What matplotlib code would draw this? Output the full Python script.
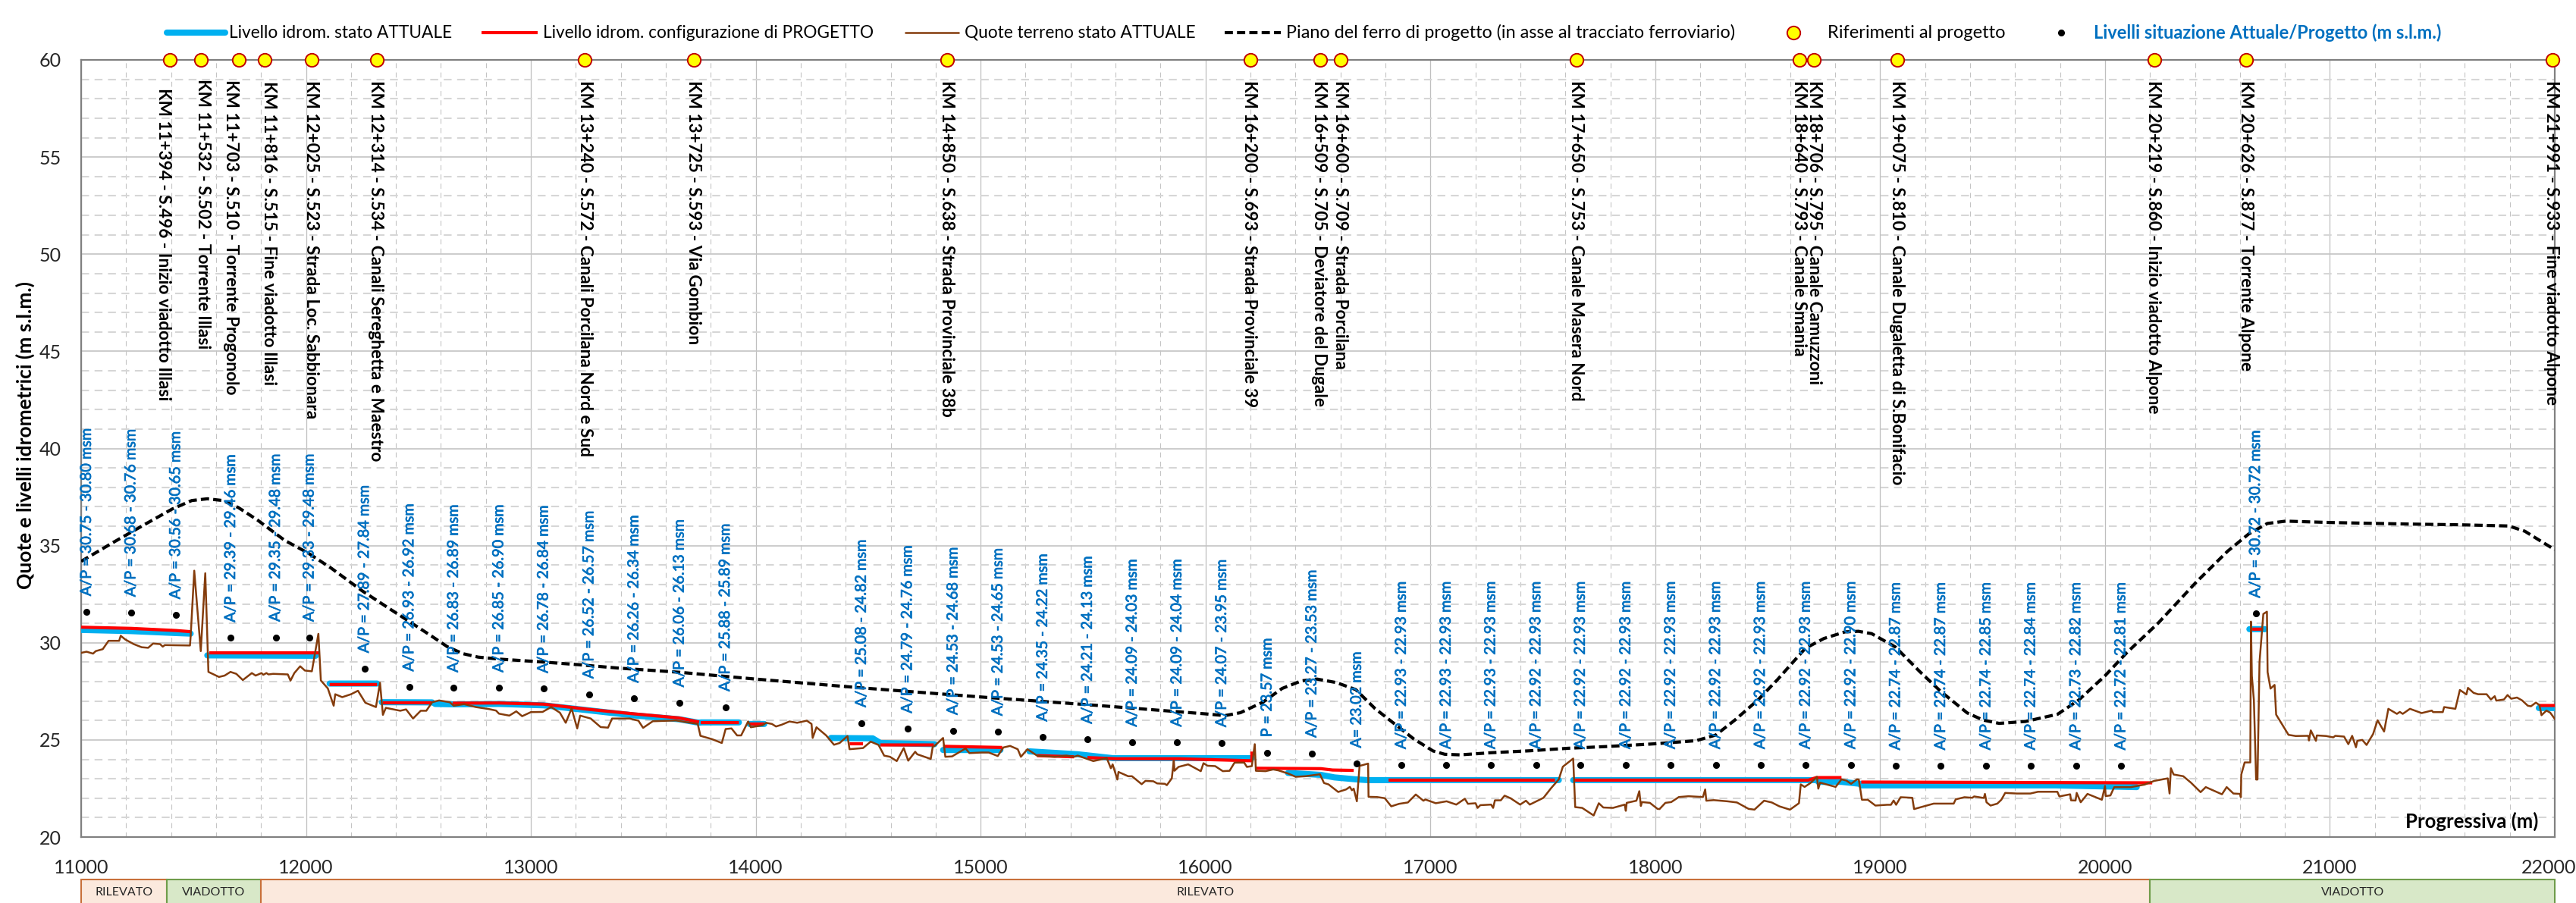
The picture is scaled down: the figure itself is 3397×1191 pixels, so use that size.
import numpy as np
import matplotlib
matplotlib.use("Agg")
import matplotlib.pyplot as plt
import matplotlib.patheffects as pe
from matplotlib.lines import Line2D
from matplotlib.patches import Rectangle
from matplotlib.ticker import MultipleLocator
from matplotlib.transforms import ScaledTranslation

W, H = 3398, 1191
FONT = "Lato"
plt.rcParams["font.family"] = [FONT, "DejaVu Sans"]

# Quote terreno stato attuale
ground_x = [11000, 11024, 11053, 11065, 11096, 11122, 11169, 11176, 11196, 11234, 11269, 11298, 11320, 11351, 11363, 11372,
            11484, 11487, 11503, 11532, 11552, 11566, 11613, 11638, 11664, 11690, 11719, 11759, 11776, 11802, 11810, 11824,
            11833, 11854, 11919, 11931, 11948, 11974, 11995, 12026, 12055, 12066, 12097, 12123, 12130, 12161, 12200, 12231,
            12264, 12311, 12329, 12342, 12355, 12419, 12445, 12476, 12510, 12535, 12561, 12592, 12639, 12657, 12703, 12755,
            12812, 12845, 12858, 12904, 12935, 12961, 13000, 13052, 13090, 13129, 13155, 13181, 13206, 13219, 13266, 13310,
            13343, 13361, 13439, 13478, 13499, 13542, 13645, 13742, 13754, 13805, 13849, 13866, 13892, 13917, 13935, 13966,
            13978, 14029, 14046, 14072, 14090, 14115, 14150, 14184, 14227, 14248, 14253, 14270, 14313, 14348, 14373, 14408,
            14417, 14477, 14511, 14546, 14571, 14597, 14627, 14658, 14678, 14709, 14718, 14778, 14787, 14795, 14833, 14843,
            14873, 14933, 14950, 15002, 15036, 15076, 15101, 15131, 15165, 15179, 15208, 15251, 15329, 15381, 15415, 15432,
            15501, 15561, 15579, 15587, 15608, 15613, 15656, 15673, 15716, 15733, 15768, 15785, 15819, 15828, 15850, 15859,
            15862, 15880, 15923, 15979, 15991, 16009, 16043, 16077, 16107, 16129, 16172, 16184, 16206, 16219, 16224, 16267,
            16301, 16324, 16367, 16401, 16444, 16509, 16527, 16547, 16590, 16625, 16642, 16651, 16659, 16673, 16685, 16723,
            16725, 16762, 16797, 16826, 16861, 16900, 16935, 16969, 16978, 17024, 17072, 17115, 17153, 17167, 17201, 17210,
            17222, 17270, 17279, 17287, 17313, 17330, 17356, 17399, 17425, 17442, 17503, 17537, 17571, 17589, 17635, 17644,
            17675, 17726, 17749, 17769, 17812, 17864, 17869, 17873, 17916, 17929, 17936, 17941, 17976, 18010, 18019, 18045,
            18071, 18105, 18148, 18212, 18222, 18227, 18260, 18320, 18363, 18415, 18441, 18484, 18518, 18552, 18599, 18639,
            18647, 18664, 18690, 18719, 18725, 18733, 18802, 18828, 18849, 18871, 18897, 18905, 18919, 18945, 18979, 19031,
            19048, 19060, 19071, 19091, 19143, 19151, 19238, 19327, 19336, 19375, 19410, 19418, 19461, 19466, 19473, 19491,
            19521, 19539, 19556, 19608, 19668, 19702, 19788, 19797, 19845, 19849, 19869, 19874, 19892, 19922, 19986, 20000,
            20003, 20024, 20041, 20115, 20176, 20219, 20279, 20287, 20293, 20305, 20348, 20382, 20425, 20448, 20520, 20541,
            20571, 20601, 20604, 20606, 20621, 20646, 20649, 20653, 20662, 20672, 20678, 20687, 20704, 20720, 20723, 20736,
            20754, 20761, 20816, 20848, 20904, 20907, 20915, 20938, 20942, 20983, 21015, 21024, 21063, 21082, 21099, 21116,
            21122, 21144, 21163, 21192, 21212, 21241, 21260, 21298, 21311, 21324, 21356, 21408, 21453, 21459, 21502, 21508,
            21558, 21578, 21607, 21614, 21639, 21659, 21697, 21716, 21733, 21740, 21774, 21790, 21806, 21832, 21855, 21880,
            21894, 21916, 21932, 21941, 21963, 21980, 22000]
ground_y = [29.48, 29.54, 29.44, 29.57, 29.67, 30.10, 30.10, 30.36, 30.17, 29.93, 29.77, 29.74, 29.96, 29.93, 29.80, 29.88,
            29.86, 30.33, 33.71, 29.57, 33.58, 28.50, 28.24, 28.31, 28.50, 28.40, 28.08, 28.44, 28.31, 28.44, 28.35, 28.44,
            28.37, 28.40, 28.37, 28.05, 28.44, 28.79, 28.57, 28.53, 30.46, 28.06, 27.65, 26.76, 27.35, 27.20, 27.35, 27.53,
            26.91, 26.69, 27.94, 26.29, 26.65, 26.50, 26.57, 26.10, 26.50, 26.50, 26.94, 27.03, 26.94, 26.76, 26.84, 26.69,
            26.59, 26.51, 26.35, 26.25, 26.47, 26.22, 26.43, 26.44, 26.69, 26.40, 25.88, 26.62, 25.59, 26.25, 26.10, 25.66,
            25.63, 26.10, 26.10, 25.99, 25.62, 25.96, 26.00, 25.82, 25.21, 25.04, 24.84, 25.56, 25.59, 25.23, 25.23, 25.95,
            25.65, 25.75, 25.88, 25.82, 25.69, 25.78, 25.95, 25.88, 25.99, 25.82, 25.10, 25.65, 25.23, 24.75, 24.84, 25.20,
            24.52, 24.58, 24.91, 24.74, 24.19, 24.13, 23.91, 24.58, 23.93, 24.39, 24.26, 24.02, 24.65, 24.69, 25.10, 24.13,
            24.15, 24.56, 24.32, 24.35, 24.35, 24.17, 24.61, 24.69, 24.52, 24.13, 24.52, 24.19, 24.13, 24.19, 24.13, 24.19,
            23.91, 24.06, 23.54, 23.74, 22.96, 23.35, 23.13, 23.13, 22.72, 22.89, 22.87, 22.76, 22.74, 22.67, 23.02, 23.93,
            23.41, 23.61, 23.74, 23.39, 23.80, 23.67, 23.65, 23.39, 23.41, 23.83, 23.83, 23.61, 23.65, 24.78, 23.41, 23.39,
            23.48, 23.43, 23.27, 23.10, 23.13, 23.23, 22.78, 22.71, 22.32, 22.45, 22.58, 22.41, 22.49, 21.84, 23.66, 23.78,
            22.07, 22.06, 22.00, 21.58, 21.71, 21.78, 22.19, 21.87, 21.93, 21.74, 21.84, 21.67, 21.97, 21.71, 21.74, 21.50,
            21.64, 21.67, 21.50, 21.89, 21.89, 22.13, 22.00, 21.67, 21.87, 21.67, 22.02, 22.52, 22.97, 23.62, 24.04, 21.54,
            21.50, 21.11, 21.74, 21.52, 21.50, 21.67, 21.35, 21.76, 21.87, 22.36, 21.60, 21.80, 21.76, 21.45, 21.44, 21.76,
            21.80, 22.06, 22.10, 22.06, 22.45, 21.87, 21.90, 21.84, 21.78, 21.45, 21.41, 21.87, 21.78, 21.58, 21.41, 21.74,
            22.71, 22.58, 22.78, 23.10, 22.49, 22.80, 22.58, 22.97, 22.91, 22.74, 22.97, 22.96, 21.92, 21.92, 21.62, 21.66,
            21.66, 21.88, 21.66, 22.05, 22.02, 21.44, 21.72, 21.72, 21.94, 22.05, 22.02, 22.09, 22.01, 22.22, 21.79, 21.62,
            21.72, 21.92, 22.27, 22.24, 22.24, 22.33, 22.33, 22.09, 22.20, 21.89, 21.88, 22.27, 21.79, 22.22, 21.92, 22.63,
            22.11, 22.14, 22.57, 22.57, 22.70, 22.89, 23.02, 22.24, 23.54, 23.22, 23.13, 22.80, 22.31, 22.57, 22.20, 22.57,
            22.24, 22.22, 22.05, 23.22, 23.84, 23.84, 31.09, 28.29, 27.05, 22.96, 22.96, 29.00, 31.48, 31.60, 28.49, 27.64,
            27.83, 26.30, 25.26, 25.20, 25.21, 24.97, 25.49, 24.95, 25.23, 25.20, 25.13, 25.21, 25.17, 24.78, 25.21, 24.62,
            24.95, 25.00, 24.74, 25.30, 26.01, 25.43, 26.60, 26.34, 26.44, 26.34, 26.60, 26.38, 26.51, 26.43, 26.43, 26.69,
            26.60, 27.57, 27.34, 27.68, 27.42, 27.35, 27.35, 27.08, 27.25, 27.02, 27.08, 27.31, 27.12, 27.18, 27.03, 26.76,
            26.73, 26.92, 26.79, 26.27, 26.51, 26.40, 26.08]

# Piano del ferro di progetto
rail_x = [11000, 11148, 11286, 11406, 11492, 11561, 11630, 11699, 11785, 11905, 12009, 12112, 12250, 12353, 12457, 12560,
          12628, 12697, 12766, 12869, 13041, 13213, 13385, 13661, 14000, 14468, 15000, 15501, 16000, 16086, 16155, 16255,
          16341, 16427, 16496, 16582, 16668, 16754, 16840, 16926, 17012, 17064, 17133, 17270, 17442, 17614, 17787, 18000,
          18182, 18269, 18355, 18458, 18544, 18667, 18750, 18844, 18903, 18962, 19068, 19175, 19269, 19387, 19458, 19529,
          19647, 19789, 19883, 20000, 20096, 20238, 20403, 20545, 20639, 20722, 20804, 21000, 21347, 21584, 21796, 21867,
          21938, 22000]
rail_y = [34.19, 35.20, 36.11, 36.89, 37.32, 37.41, 37.32, 36.96, 36.31, 35.27, 34.62, 33.84, 32.67, 31.89, 31.11, 30.33,
          29.80, 29.44, 29.26, 29.15, 29.02, 28.87, 28.70, 28.48, 28.13, 27.68, 27.21, 26.79, 26.34, 26.25, 26.40, 26.94,
          27.65, 28.04, 28.13, 27.95, 27.59, 26.61, 25.83, 25.05, 24.43, 24.26, 24.23, 24.34, 24.44, 24.57, 24.66, 24.80,
          24.96, 25.25, 26.03, 27.07, 28.11, 29.71, 30.22, 30.56, 30.59, 30.47, 29.78, 28.53, 27.50, 26.39, 26.02, 25.85,
          25.95, 26.32, 27.05, 28.30, 29.48, 31.03, 33.09, 34.71, 35.60, 36.14, 36.26, 36.19, 36.11, 36.07, 36.01, 35.74,
          35.23, 34.79]

# Livello idrometrico stato attuale (tratti separati da nan)
nan = float("nan")
attuale_x = [11000, 11222, 11421, 11487, nan, 11561, 12043, nan, 12105, 12316, nan, 12337, 12561, nan,
             12574, 12657, 12858, 13057, 13259, 13459, 13661, 13748, nan, 13755, 13925, nan, 13972, 14038, nan,
             14334, 14520, 14554, 14795, nan, 14833, 15088, nan, 15217, 15432, 15587, 16206, nan,
             16367, 16513, 16573, 16668, 16720, 17571, nan, 17635, 18716, nan, 18725, 18828, 18936, nan,
             18916, 19780, 20141, nan, 20642, 20711, nan, 21929, 22000]
attuale_y = [30.66, 30.60, 30.50, 30.47, nan, 29.35, 29.33, nan, 27.90, 27.90, nan, 26.94, 26.93, nan,
             26.85, 26.83, 26.85, 26.78, 26.52, 26.26, 26.06, 25.88, nan, 25.90, 25.90, nan, 25.82, 25.82, nan,
             25.10, 25.08, 24.84, 24.78, nan, 24.48, 24.48, nan, 24.41, 24.26, 24.06, 24.06, nan,
             23.30, 23.20, 23.07, 22.97, 22.93, 22.93, nan, 22.93, 22.93, nan, 22.84, 22.84, 22.71, nan,
             22.66, 22.66, 22.57, nan, 30.70, 30.70, nan, 26.64, 26.64]

# Livello idrometrico configurazione di progetto
progetto_x = [11000, 11222, 11421, 11487, nan, 11570, 12057, nan, 12105, 12316, nan, 12342, 12561, nan,
              12652, 12858, 13057, 13259, 13459, 13658, 13748, nan, 13755, 13925, nan, 13972, 14038, nan,
              14417, 14477, nan, 14554, 14792, nan, 14833, 15096, nan, 15251, 15415, nan, 15475, 15604, 15880, 16189, 16206, 16206, nan,
              16224, 16513, 16565, 16659, nan, 16814, 17554, nan, 17640, 18681, 18716, 18828, nan,
              18916, 20210, nan, 20655, 20703, nan, 21929, 22000]
progetto_y = [30.80, 30.74, 30.63, 30.57, nan, 29.48, 29.48, nan, 27.85, 27.85, nan, 26.91, 26.91, nan,
              26.89, 26.90, 26.84, 26.57, 26.34, 26.13, 25.92, nan, 25.89, 25.89, nan, 25.82, 25.82, nan,
              24.80, 24.80, nan, 24.74, 24.74, nan, 24.67, 24.61, nan, 24.19, 24.13, nan, 24.09, 24.03, 24.03, 23.93, 23.93, 24.40, nan,
              23.54, 23.52, 23.45, 23.43, nan, 22.93, 22.93, nan, 22.93, 22.93, 23.06, 23.06, nan,
              22.83, 22.79, nan, 30.70, 30.70, nan, 26.77, 26.77]

# Riferimenti al progetto
ref_x = [11394, 11532, 11703, 11816, 12025, 12314, 13240, 13725, 14850, 16200, 16509, 16600, 17650, 18640, 18706, 19075, 20219, 20626, 21991]
ref_text_x = [11367, 11542, 11666, 11834, 12025, 12311, 13240, 13724, 14849, 16195, 16505, 16599, 17648, 18640, 18706, 19075, 20215, 20625, 21985]
ref_text_y = [58.56, 59.02, 58.99, 58.90, 58.95, 58.95, 58.95, 58.95, 58.95, 58.95, 58.95, 58.95, 58.95, 58.95, 58.95, 58.95, 58.95, 58.95, 58.95]
ref_labels = ["KM 11+394 - S.496 - Inizio viadotto Illasi",
              "KM 11+532 - S.502 - Torrente Illasi",
              "KM 11+703 - S.510 - Torrente Progonolo",
              "KM 11+816 - S.515 - Fine viadotto Illasi",
              "KM 12+025 - S.523 - Strada Loc. Sabbionara",
              "KM 12+314 - S.534 - Canali Sereghetta e Maestro",
              "KM 13+240 - S.572 - Canali Porcilana Nord e Sud",
              "KM 13+725 - S.593 - Via Gombion",
              "KM 14+850 - S.638 - Strada Provinciale 38b",
              "KM 16+200 - S.693 - Strada Provinciale 39",
              "KM 16+509 - S.705 - Deviatore del Dugale",
              "KM 16+600 - S.709 - Strada Porcilana",
              "KM 17+650 - S.753 - Canale Masera Nord",
              "KM 18+640 - S.793 - Canale Smania",
              "KM 18+706 - S.795 - Canale Camuzzoni",
              "KM 19+075 - S.810 - Canale Dugaletta di S.Bonifacio",
              "KM 20+219 - S.860 - Inizio viadotto Alpone",
              "KM 20+626 - S.877 - Torrente Alpone",
              "KM 21+991 - S.933 - Fine viadotto Alpone"]

# Livelli situazione attuale/progetto
level_x = [11025, 11222, 11421, 11666, 11865, 12015, 12260, 12459, 12657, 12858, 13057, 13259, 13459, 13661, 13865,
           14471, 14675, 14878, 15078, 15277, 15476, 15675, 15874, 16073, 16275, 16474, 16673, 16872, 17071, 17269,
           17470, 17668, 17870, 18069, 18269, 18468, 18669, 18870, 19069, 19270, 19471, 19670, 19871, 20071, 20670]
level_y = [31.60, 31.56, 31.44, 30.25, 30.28, 30.28, 28.67, 27.72, 27.67, 27.67, 27.63, 27.35, 27.13, 26.91, 26.69,
           25.87, 25.57, 25.48, 25.43, 25.14, 25.02, 24.87, 24.87, 24.85, 24.34, 24.31, 23.78, 23.72, 23.72, 23.72,
           23.72, 23.72, 23.72, 23.72, 23.72, 23.72, 23.72, 23.72, 23.67, 23.67, 23.67, 23.67, 23.67, 23.67, 31.50]
level_labels = ["A/P = 30.75 - 30.80 msm", "A/P = 30.68 - 30.76 msm", "A/P = 30.56 - 30.65 msm", "A/P = 29.39 - 29.46 msm",
                "A/P = 29.35 - 29.48 msm", "A/P = 29.33 - 29.48 msm", "A/P = 27.89 - 27.84 msm", "A/P = 26.93 - 26.92 msm",
                "A/P = 26.83 - 26.89 msm", "A/P = 26.85 - 26.90 msm", "A/P = 26.78 - 26.84 msm", "A/P = 26.52 - 26.57 msm",
                "A/P = 26.26 - 26.34 msm", "A/P = 26.06 - 26.13 msm", "A/P = 25.88 - 25.89 msm", "A/P = 25.08 - 24.82 msm",
                "A/P = 24.79 - 24.76 msm", "A/P = 24.53 - 24.68 msm", "A/P = 24.53 - 24.65 msm", "A/P = 24.35 - 24.22 msm",
                "A/P = 24.21 - 24.13 msm", "A/P = 24.09 - 24.03 msm", "A/P = 24.09 - 24.04 msm", "A/P = 24.07 - 23.95 msm",
                "P = 23.57 msm", "A/P = 23.27 - 23.53 msm", "A= 23.02 msm", "A/P = 22.93 - 22.93 msm",
                "A/P = 22.93 - 22.93 msm", "A/P = 22.93 - 22.93 msm", "A/P = 22.92 - 22.93 msm", "A/P = 22.92 - 22.93 msm",
                "A/P = 22.92 - 22.93 msm", "A/P = 22.92 - 22.93 msm", "A/P = 22.92 - 22.93 msm", "A/P = 22.92 - 22.93 msm",
                "A/P = 22.92 - 22.93 msm", "A/P = 22.92 - 22.90 msm", "A/P = 22.74 - 22.87 msm", "A/P = 22.74 - 22.87 msm",
                "A/P = 22.74 - 22.85 msm", "A/P = 22.74 - 22.84 msm", "A/P = 22.73 - 22.82 msm", "A/P = 22.72 - 22.81 msm",
                "A/P = 30.72 - 30.72 msm"]

# Tratti in basso
tratti_start = [11000, 11381, 11800, 20200]
tratti_end = [11381, 11800, 20200, 22000]
tratti_names = ["RILEVATO", "VIADOTTO", "RILEVATO", "VIADOTTO"]
tratti_center = [11190, 11590, 16000, 21100]

C_ATTUALE = "#00b0f0"
C_PROGETTO = "#ff0000"
C_TERRENO = "#843c0c"
C_LABEL = "#0070c0"


def fx(px):
    return px / W


def fy(py):
    return 1 - py / H


fig = plt.figure(figsize=(W / 100, H / 100), dpi=100)
ax = fig.add_axes([fx(107), fy(1104), (3369 - 107) / W, (1104 - 79) / H])
ax.set_xlim(11000, 22000)
ax.set_ylim(20, 60)

ax.set_xticks(np.arange(11000, 22001, 1000))
ax.xaxis.set_minor_locator(MultipleLocator(200))
ax.yaxis.set_major_locator(MultipleLocator(5))
ax.yaxis.set_minor_locator(MultipleLocator(1))
ax.set_axisbelow(True)
ax.grid(axis="x", which="major", color="#bfbfbf", lw=0.9)
ax.grid(axis="y", which="major", color="#c4c4c4", lw=1.2)
ax.grid(axis="x", which="minor", color="#c4c4c4", lw=0.8, ls=(0, (6, 5)))
ax.grid(axis="y", which="minor", color="#d6d6d6", lw=1.5, ls=(0, (5, 3.5)))
ax.tick_params(which="both", length=0)
ax.tick_params(axis="x", labelsize=18, pad=21, colors="#262626")
ax.tick_params(axis="y", labelsize=18, pad=19, colors="#262626")
for side in ax.spines.values():
    side.set_color("#808080")
    side.set_linewidth(1.6)

# l'ultima etichetta uscirebbe dal bordo destro
last_label = ax.xaxis.get_major_ticks()[-1].label1
last_label.set_transform(last_label.get_transform() + ScaledTranslation(-0.08, 0, fig.dpi_scale_trans))

ax.plot(attuale_x, attuale_y, color=C_ATTUALE, lw=5.8, solid_capstyle="round", zorder=3)
ax.plot(progetto_x, progetto_y, color=C_PROGETTO, lw=3.0, solid_capstyle="butt", zorder=4)
ax.plot(ground_x, ground_y, color=C_TERRENO, lw=1.8, zorder=5)
ax.plot(rail_x, rail_y, color="black", lw=3.0, ls=(0, (2.6, 1.3)), zorder=6)
ax.plot(level_x, level_y, ls="none", marker="o", ms=5.5, color="black", zorder=6)
ax.plot(ref_x, [60] * len(ref_x), ls="none", marker="o", ms=12.5, mfc="#ffff00", mec="#c00000", mew=1.4,
        clip_on=False, zorder=8)

for x, y, label in zip(ref_text_x, ref_text_y, ref_labels):
    ax.text(x, y, label, rotation=270, ha="center", va="top", fontsize=16.3, fontweight="bold", color="black", zorder=7)

for x, y, label in zip(level_x, level_y, level_labels):
    ax.text(x, y + 0.8, label, rotation=90, ha="center", va="bottom", fontsize=14.3, color=C_LABEL, zorder=7,
            path_effects=[pe.withStroke(linewidth=0.5, foreground=C_LABEL)])

ax.text(21927, 20.8, "Progressiva (m)", ha="right", va="center", fontsize=18.5, fontweight="bold", color="black", zorder=7)
fig.text(fx(33), fy(574), "Quote e livelli idrometrici (m s.l.m.)", rotation=90, ha="center", va="center",
         fontsize=19, fontweight="bold", color="black")

# striscia dei tratti
strip = fig.add_axes([fx(107), 0, (3369 - 107) / W, (H - 1160) / H])
strip.set_xlim(11000, 22000)
strip.set_ylim(1, 0)
strip.axis("off")
for start, end, name, center in zip(tratti_start, tratti_end, tratti_names, tratti_center):
    viadotto = name == "VIADOTTO"
    strip.add_patch(Rectangle((start, 0), end - start, 2, facecolor="#d8e8c8" if viadotto else "#fbe9dd",
                              edgecolor="#6f9c4a" if viadotto else "#c8703a", lw=1.5, clip_on=False))
    strip.text(center, 0.55, name, ha="center", va="center", fontsize=11.5, color="#262626")

# legenda
LEG_Y = 43
legend_lines = [(220, 297, C_ATTUALE, 5.8, "-"), (635, 709, C_PROGETTO, 3.0, "-"), (1193, 1265, C_TERRENO, 1.8, "-"),
                (1615, 1689, "black", 3.0, (0, (2.6, 1.3)))]
for x0, x1, color, lw, ls in legend_lines:
    fig.add_artist(Line2D([fx(x0), fx(x1)], [fy(LEG_Y), fy(LEG_Y)], color=color, lw=lw, ls=ls,
                          solid_capstyle="round" if color == C_ATTUALE else "butt", transform=fig.transFigure))
fig.add_artist(Line2D([fx(2365)], [fy(LEG_Y)], marker="o", ms=12.5, mfc="#ffff00", mec="#c00000", mew=1.4, ls="none",
                      transform=fig.transFigure))
fig.add_artist(Line2D([fx(2718)], [fy(LEG_Y)], marker="o", ms=5.5, color="black", ls="none", transform=fig.transFigure))

legend_text = [(302, "Livello idrom. stato ATTUALE", "black", "normal", 16.3),
               (716, "Livello idrom. configurazione di PROGETTO", "black", "normal", 16.3),
               (1272, "Quote terreno stato ATTUALE", "black", "normal", 16.3),
               (1696, "Piano del ferro di progetto (in asse al tracciato ferroviario)", "black", "normal", 16.8),
               (2410, "Riferimenti al progetto", "black", "normal", 17),
               (2761, "Livelli situazione Attuale/Progetto (m s.l.m.)", C_LABEL, "bold", 17)]
for x, label, color, weight, size in legend_text:
    fig.text(fx(x), fy(LEG_Y), label, ha="left", va="center", fontsize=size, color=color, fontweight=weight)

fig.savefig("out.png", dpi=100)
